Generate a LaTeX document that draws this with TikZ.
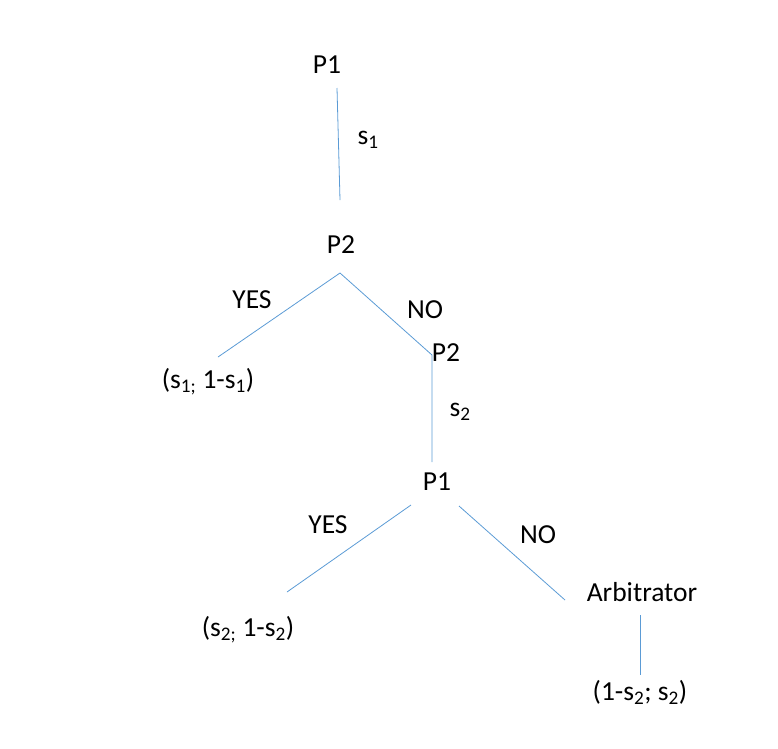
\documentclass[tikz,border=0pt]{standalone}
\usepackage{fontspec}
\setmainfont{Carlito}
\definecolor{ln}{HTML}{5B9BD5}
\begin{document}
\begin{tikzpicture}[x=1pt,y=-1pt,every node/.style={font=\fontsize{27.5}{30}\selectfont,inner sep=0pt},edge/.style={draw=ln,line width=0.8pt}]
\useasboundingbox (0,0) rectangle (778,748);
\node (p1) at (327,65) {P1};
\node (p2) at (341,245) {P2};
\node (a) at (208,382) {(s\textsubscript{1;} 1-s\textsubscript{1})};
\node (p2b) at (446,353) {P2};
\node (p1b) at (437,482) {P1};
\node (b) at (248,630) {(s\textsubscript{2;} 1-s\textsubscript{2})};
\node (arb) at (642,592) {Arbitrator};
\node (c) at (640,692) {(1-s\textsubscript{2}; s\textsubscript{2})};
\coordinate (e1) at (337,88); \coordinate (e2) at (340,200);
\coordinate (f0) at (340,273); \coordinate (f1) at (218,357); \coordinate (f2) at (432,355);
\coordinate (g2) at (432,462);
\coordinate (h1) at (411,505); \coordinate (h2) at (287,592);
\coordinate (i1) at (459,506); \coordinate (i2) at (565,600);
\coordinate (j1) at (640,615); \coordinate (j2) at (640,675);
\draw[edge] (e1) -- (e2);
\draw[edge] (f0) -- (f1);
\draw[edge] (f0) -- (f2) -- (g2);
\draw[edge] (h1) -- (h2);
\draw[edge] (i1) -- (i2);
\draw[edge] (j1) -- (j2);
\node at (368,140) {s\textsubscript{1}};
\node at (252,300) {YES};
\node at (425,310) {NO};
\node at (460,412) {s\textsubscript{2}};
\node at (328,525) {YES};
\node at (538,535) {NO};
\end{tikzpicture}
\end{document}
